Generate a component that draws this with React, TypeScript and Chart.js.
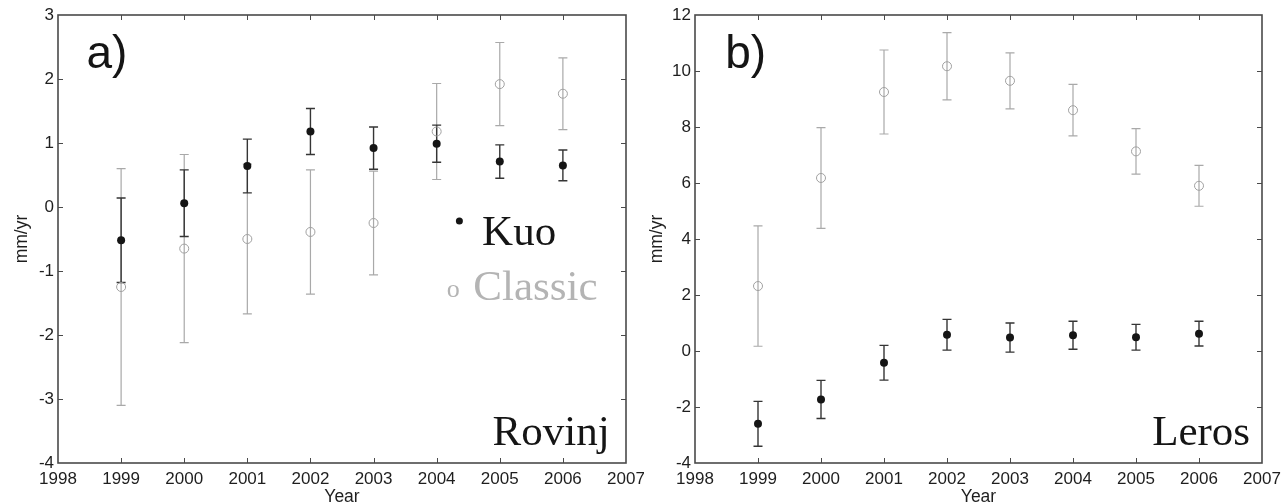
import React, { useEffect, useRef } from 'react';
import { Chart, registerables } from 'chart.js';

Chart.register(...registerables);

// ---------- data ----------
const years = [1999, 2000, 2001, 2002, 2003, 2004, 2005, 2006];

const rovinjKuo = [-0.52, 0.06, 0.64, 1.18, 0.92, 0.99, 0.71, 0.65];
const rovinjKuoErr = [0.66, 0.52, 0.42, 0.36, 0.33, 0.29, 0.26, 0.24];
const rovinjClassic = [-1.25, -0.65, -0.5, -0.39, -0.25, 1.18, 1.92, 1.77];
const rovinjClassicErr = [1.85, 1.47, 1.17, 0.97, 0.81, 0.75, 0.65, 0.56];

const lerosKuo = [-2.6, -1.73, -0.42, 0.58, 0.48, 0.56, 0.49, 0.62];
const lerosKuoErr = [0.8, 0.68, 0.62, 0.55, 0.52, 0.5, 0.46, 0.44];
const lerosClassic = [2.32, 6.18, 9.25, 10.17, 9.65, 8.6, 7.13, 5.9];
const lerosClassicErr = [2.15, 1.8, 1.5, 1.2, 1.0, 0.92, 0.81, 0.73];

const xTickYears = [1998, 1999, 2000, 2001, 2002, 2003, 2004, 2005, 2006, 2007];
const rovinjYTicks = [-4, -3, -2, -1, 0, 1, 2, 3];
const lerosYTicks = [-4, -2, 0, 2, 4, 6, 8, 10, 12];

// ---------- styling ----------
const SANS = '"Liberation Sans", Arial, Helvetica, sans-serif';
const SERIF = '"Liberation Serif", "Times New Roman", serif';
const BLACK = '#151515';
const KUO_BAR = '#353535';
const GRAY_BAR = '#a9a9a9';
const GRAY_MARK = '#a0a0a0';
const GRAY_TEXT = '#b4b4b4';
const FRAME = '#4a4a4a';

type Note = {
  text?: string;
  dot?: boolean;
  x: number;
  y: number;
  font?: string;
  color: string;
  align?: CanvasTextAlign;
  r?: number;
};

const rovinjNotes: Note[] = [
  { text: 'a)', x: 1998.45, y: 2.17, font: `46px ${SANS}`, color: BLACK, align: 'left' },
  { dot: true, x: 2004.36, y: -0.22, r: 3.5, color: BLACK },
  { text: 'Kuo', x: 2004.72, y: -0.6, font: `43px ${SERIF}`, color: BLACK, align: 'left' },
  { text: 'o', x: 2004.16, y: -1.4, font: `26px ${SERIF}`, color: GRAY_TEXT, align: 'left' },
  { text: 'Classic', x: 2004.58, y: -1.45, font: `43px ${SERIF}`, color: GRAY_TEXT, align: 'left' },
  { text: 'Rovinj', x: 2006.74, y: -3.72, font: `43px ${SERIF}`, color: BLACK, align: 'right' },
];

const lerosNotes: Note[] = [
  { text: 'b)', x: 1998.48, y: 10.11, font: `46px ${SANS}`, color: BLACK, align: 'left' },
  { text: 'Leros', x: 2006.81, y: -3.36, font: `43px ${SERIF}`, color: BLACK, align: 'right' },
];

type PanelCfg = {
  kuo: number[];
  kuoErr: number[];
  classic: number[];
  classicErr: number[];
  yTicks: number[];
  yWidth: number;
  padRight: number;
  titlePad: number;
  notes: Note[];
};

function buildConfig(p: PanelCfg): any {
  const yMin = p.yTicks[0];
  const yMax = p.yTicks[p.yTicks.length - 1];
  const yStep = p.yTicks[1] - p.yTicks[0];

  const panelPlugin = {
    id: 'panelDecor',
    beforeDatasetsDraw(chart: any) {
      const { ctx } = chart;
      const xs = chart.scales.x;
      const ys = chart.scales.y;
      const sets = [
        { vals: p.classic, errs: p.classicErr, color: GRAY_BAR, w: 1.2 },
        { vals: p.kuo, errs: p.kuoErr, color: KUO_BAR, w: 1.4 },
      ];
      ctx.save();
      for (const s of sets) {
        ctx.strokeStyle = s.color;
        ctx.lineWidth = s.w;
        for (let j = 0; j < years.length; j++) {
          const px = xs.getPixelForValue(years[j]);
          const top = ys.getPixelForValue(s.vals[j] + s.errs[j]);
          const bot = ys.getPixelForValue(s.vals[j] - s.errs[j]);
          ctx.beginPath();
          ctx.moveTo(px, top);
          ctx.lineTo(px, bot);
          ctx.moveTo(px - 4.5, top);
          ctx.lineTo(px + 4.5, top);
          ctx.moveTo(px - 4.5, bot);
          ctx.lineTo(px + 4.5, bot);
          ctx.stroke();
        }
      }
      ctx.restore();
    },
    afterDraw(chart: any) {
      const { ctx, chartArea } = chart;
      const xs = chart.scales.x;
      const ys = chart.scales.y;
      const { left, right, top, bottom } = chartArea;
      ctx.save();
      // frame
      ctx.strokeStyle = FRAME;
      ctx.lineWidth = 1.6;
      ctx.strokeRect(left, top, right - left, bottom - top);
      // inner ticks
      ctx.lineWidth = 1;
      ctx.beginPath();
      for (const t of xTickYears) {
        if (t === xTickYears[0] || t === xTickYears[xTickYears.length - 1]) continue;
        const px = Math.round(xs.getPixelForValue(t)) + 0.5;
        ctx.moveTo(px, bottom);
        ctx.lineTo(px, bottom - 5);
        ctx.moveTo(px, top);
        ctx.lineTo(px, top + 5);
      }
      for (const t of p.yTicks) {
        if (t === yMin || t === yMax) continue;
        const py = Math.round(ys.getPixelForValue(t)) + 0.5;
        ctx.moveTo(left, py);
        ctx.lineTo(left + 5, py);
        ctx.moveTo(right, py);
        ctx.lineTo(right - 5, py);
      }
      ctx.stroke();
      // annotations
      for (const n of p.notes) {
        const nx = xs.getPixelForValue(n.x);
        const ny = ys.getPixelForValue(n.y);
        if (n.dot) {
          ctx.fillStyle = n.color;
          ctx.beginPath();
          ctx.arc(nx, ny, n.r || 3, 0, Math.PI * 2);
          ctx.fill();
        } else if (n.text) {
          ctx.fillStyle = n.color;
          ctx.font = n.font || `20px ${SANS}`;
          ctx.textAlign = n.align || 'left';
          ctx.textBaseline = 'alphabetic';
          ctx.fillText(n.text, nx, ny);
        }
      }
      ctx.restore();
    },
  };

  return {
    type: 'scatter',
    data: {
      datasets: [
        {
          label: 'Kuo',
          data: years.map((x, i) => ({ x, y: p.kuo[i] })),
          pointRadius: 4,
          pointBackgroundColor: BLACK,
          pointBorderColor: BLACK,
          pointBorderWidth: 0,
          showLine: false,
        },
        {
          label: 'Classic',
          data: years.map((x, i) => ({ x, y: p.classic[i] })),
          pointRadius: 4.5,
          pointBackgroundColor: 'rgba(255,255,255,0)',
          pointBorderColor: GRAY_MARK,
          pointBorderWidth: 1,
          showLine: false,
        },
      ],
    },
    options: {
      animation: false,
      responsive: false,
      maintainAspectRatio: false,
      events: [],
      layout: { padding: { left: 0, right: p.padRight, top: 15, bottom: 0 } },
      plugins: {
        legend: { display: false },
        tooltip: { enabled: false },
        title: { display: false },
      },
      scales: {
        x: {
          type: 'linear',
          position: 'bottom',
          min: xTickYears[0],
          max: xTickYears[xTickYears.length - 1],
          afterBuildTicks: (s: any) => {
            s.ticks = xTickYears.map((v) => ({ value: v }));
          },
          ticks: {
            autoSkip: false,
            maxRotation: 0,
            padding: 6,
            color: '#1e1e1e',
            font: { family: SANS, size: 17 },
            callback: (v: any) => String(v),
          },
          grid: { display: false, drawTicks: false },
          border: { display: false },
          title: {
            display: true,
            text: 'Year',
            color: '#1e1e1e',
            font: { family: SANS, size: 17.5 },
            padding: { top: 0, bottom: -4 },
          },
          afterFit: (s: any) => {
            s.height = 41;
            s.paddingLeft = 0;
            s.paddingRight = 0;
          },
        },
        y: {
          type: 'linear',
          position: 'left',
          min: yMin,
          max: yMax,
          afterBuildTicks: (s: any) => {
            s.ticks = p.yTicks.map((v) => ({ value: v }));
          },
          ticks: {
            stepSize: yStep,
            padding: 4,
            color: '#1e1e1e',
            font: { family: SANS, size: 17 },
            callback: (v: any) => String(v),
          },
          grid: { display: false, drawTicks: false },
          border: { display: false },
          title: {
            display: true,
            text: 'mm/yr',
            color: '#1e1e1e',
            font: { family: SANS, size: 17.5 },
            padding: { top: p.titlePad, bottom: 0 },
          },
          afterFit: (s: any) => {
            s.width = p.yWidth;
            s.paddingTop = 0;
            s.paddingBottom = 0;
          },
        },
      },
    },
    plugins: [panelPlugin],
  };
}

function Panel({ cfg, left }: { cfg: PanelCfg; left: number }) {
  const ref = useRef<HTMLCanvasElement>(null);
  useEffect(() => {
    if (!ref.current) return;
    const chart = new Chart(ref.current, buildConfig(cfg));
    return () => chart.destroy();
  }, []);
  return (
    <canvas
      ref={ref}
      width={644}
      height={504}
      style={{ position: 'absolute', left, top: 0, width: 644, height: 504 }}
    />
  );
}

const rovinjCfg: PanelCfg = {
  kuo: rovinjKuo,
  kuoErr: rovinjKuoErr,
  classic: rovinjClassic,
  classicErr: rovinjClassicErr,
  yTicks: rovinjYTicks,
  yWidth: 58,
  padRight: 18,
  titlePad: 12,
  notes: rovinjNotes,
};

const lerosCfg: PanelCfg = {
  kuo: lerosKuo,
  kuoErr: lerosKuoErr,
  classic: lerosClassic,
  classicErr: lerosClassicErr,
  yTicks: lerosYTicks,
  yWidth: 51,
  padRight: 26,
  titlePad: 3,
  notes: lerosNotes,
};

export default function App() {
  return (
    <div
      style={{
        position: 'absolute',
        left: 0,
        top: 0,
        width: 1288,
        height: 504,
        background: '#ffffff',
        overflow: 'hidden',
      }}
    >
      <Panel cfg={rovinjCfg} left={0} />
      <Panel cfg={lerosCfg} left={644} />
    </div>
  );
}
